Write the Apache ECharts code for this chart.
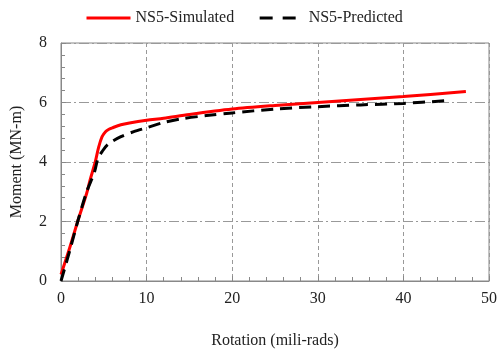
<!DOCTYPE html>
<html><head><meta charset="utf-8">
<script src="https://cdn.jsdelivr.net/npm/echarts@6/dist/echarts.min.js"></script>
<style>html,body{margin:0;padding:0;background:#fff}#c{width:500px;height:354px}</style>
</head><body><div id="c"></div>
<script>
const simulatedX = [0, 1, 2, 3, 3.4, 4.0, 4.4, 4.8, 5.2, 5.6, 6, 7, 8, 10, 12, 15, 20, 25, 30, 35, 40, 47.3];
const simulatedY = [0.22, 1.1, 2.05, 2.95, 3.4, 4.0, 4.5, 4.85, 5.02, 5.1, 5.15, 5.25, 5.31, 5.4, 5.47, 5.6, 5.78, 5.9, 6.0, 6.1, 6.2, 6.37];
const predictedX = [0, 1, 2, 3, 3.9, 4.3, 4.8, 5.5, 7, 8.5, 10, 12, 14, 17, 20, 25, 30, 35, 40, 45];
const predictedY = [0, 1.0, 2.05, 3.0, 3.65, 4.1, 4.35, 4.6, 4.85, 5.02, 5.15, 5.33, 5.45, 5.56, 5.65, 5.78, 5.86, 5.92, 5.97, 6.06];
const seriesNames = ['NS5-Simulated', 'NS5-Predicted'];
const xTicks = [0, 10, 20, 30, 40, 50];
const yTicks = [0, 2, 4, 6, 8];

const pair = (xs, ys) => xs.map((x, i) => [x, ys[i]]);
const font = '"Liberation Serif", "Times New Roman", serif';
const chart = echarts.init(document.getElementById('c'));
chart.setOption({
  animation: false,
  textStyle: { fontFamily: font },
  grid: { left: 61, top: 43, width: 430, height: 241, show: true, borderColor: '#888', borderWidth: 1 },
  legend: {
    top: 5, left: 80, itemWidth: 44, itemHeight: 14, itemGap: 24,
    itemStyle: { opacity: 0 },
    lineStyle: { width: 3 },
    textStyle: { fontFamily: font, fontSize: 16, color: '#222' },
    data: [
      { name: seriesNames[0] },
      { name: seriesNames[1], lineStyle: { width: 3, type: [13, 10] } }
    ]
  },
  xAxis: {
    type: 'value', min: xTicks[0], max: xTicks[xTicks.length - 1], interval: 10,
    name: 'Rotation (mili-rads)', nameLocation: 'middle', nameGap: 52,
    nameTextStyle: { fontFamily: font, fontSize: 16, color: '#222' },
    axisLine: { show: true, lineStyle: { color: '#888', width: 1 } },
    axisTick: { show: true, inside: true, length: 5, lineStyle: { color: '#888' } },
    minorTick: { show: true, splitNumber: 5, length: 4, lineStyle: { color: '#888' } },
    axisLabel: { fontFamily: font, fontSize: 16, color: '#222', margin: 10 },
    splitLine: { show: true, lineStyle: { color: '#999', width: 1, type: [4, 3] } }
  },
  yAxis: {
    type: 'value', min: yTicks[0], max: yTicks[yTicks.length - 1], interval: 2,
    name: 'Moment (MN-m)', nameLocation: 'middle', nameGap: 36,
    nameTextStyle: { fontFamily: font, fontSize: 16, color: '#222' },
    axisLine: { show: true, lineStyle: { color: '#888', width: 1 } },
    axisTick: { show: true, inside: true, length: 5, lineStyle: { color: '#888' } },
    minorTick: { show: true, splitNumber: 5, length: 4, lineStyle: { color: '#888' } },
    axisLabel: { fontFamily: font, fontSize: 16, color: '#222', margin: 14 },
    splitLine: { show: true, lineStyle: { color: '#999', width: 1, type: [10, 3, 2, 3] } }
  },
  series: [
    {
      name: seriesNames[0], type: 'line', data: pair(simulatedX, simulatedY),
      showSymbol: false, symbol: 'none', smooth: 0.3,
      lineStyle: { color: '#ff0000', width: 3 }, itemStyle: { color: '#ff0000' }
    },
    {
      name: seriesNames[1], type: 'line', data: pair(predictedX, predictedY),
      showSymbol: false, symbol: 'none', smooth: 0.3,
      lineStyle: { color: '#000', width: 3, type: [12, 7] }, itemStyle: { color: '#000' }
    }
  ]
});
</script></body></html>
